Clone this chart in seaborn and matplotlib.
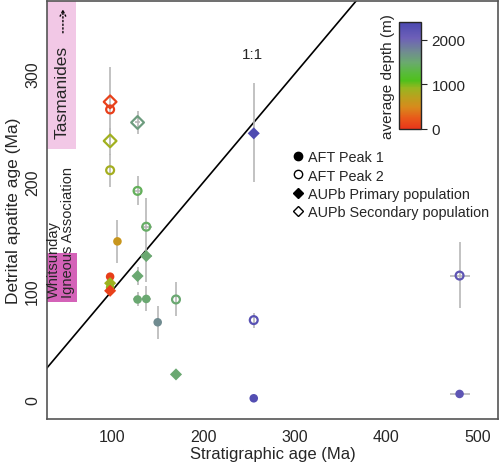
import numpy as np
import pandas as pd
import matplotlib
matplotlib.use("Agg")
import matplotlib.pyplot as plt
import seaborn as sns
from matplotlib.colors import LinearSegmentedColormap, Normalize
from matplotlib.lines import Line2D

sns.set_style("white")
plt.rcParams['font.family'] = ['Liberation Sans', 'DejaVu Sans']

# data
strat_age = [98, 98, 98, 98, 128, 128, 137.5, 106, 137.5, 128, 98, 98, 98, 98,
             128, 137.5, 170, 150, 170, 255, 255, 255, 480, 480]
apatite_age = [267, 274, 238, 211, 255, 192, 159, 145.5, 132, 113.6, 113, 107, 103, 100,
               92, 92.5, 92, 71, 23, 245, 73, 1, 114, 5]
depth = [60, 80, 860, 840, 1600, 1400, 1450, 600, 1500, 1500, 60, 880, 920, 80,
         1500, 1500, 1500, 1730, 1500, 2350, 2250, 2300, 2200, 2200]
kind = ['AFT Peak 2', 'AUPb Secondary population', 'AUPb Secondary population', 'AFT Peak 2',
        'AUPb Secondary population', 'AFT Peak 2', 'AFT Peak 2', 'AFT Peak 1',
        'AUPb Primary population', 'AUPb Primary population', 'AFT Peak 1',
        'AUPb Primary population', 'AFT Peak 1', 'AUPb Primary population',
        'AFT Peak 1', 'AFT Peak 1', 'AFT Peak 2', 'AFT Peak 1', 'AUPb Primary population',
        'AUPb Primary population', 'AFT Peak 2', 'AFT Peak 1', 'AFT Peak 2', 'AFT Peak 1']
y_lo = [232, 274, 225, 196, 244, 179, 108, 126, 132, 105, 113, 107, 103, 100,
        86, 81, 77, 56, 23, 200, 66, 1, 84, 5]
y_hi = [306, 274, 250, 226, 266, 206, 185, 165, 132, 122, 113, 107, 103, 100,
        99, 104, 108, 86, 23, 291, 80, 1, 145, 5]
x_err = [0, 0, 0, 0, 3, 5, 6, 0, 6, 5, 0, 0, 0, 0, 5, 5, 0, 0, 4, 0, 0, 0, 11, 11]

df = pd.DataFrame({'strat': strat_age, 'age': apatite_age, 'depth': depth, 'kind': kind,
                   'ylo': y_lo, 'yhi': y_hi, 'xerr': x_err})

cmap = LinearSegmentedColormap.from_list('depth', [
    (0.0, '#e8361a'), (0.1, '#e85a1a'), (0.2, '#d88a1c'), (0.3, '#b8a21e'),
    (0.38, '#98b620'), (0.45, '#50c01c'), (0.52, '#58bb3a'), (0.62, '#6aaa6e'),
    (0.72, '#708c90'), (0.85, '#6e60b8'), (1.0, '#4a48b0')])
norm = Normalize(0, 2400)

fig = plt.figure(figsize=(5, 4.64), dpi=100)
ax = fig.add_axes([0.094, 0.095, 0.902, 0.901])

# regions
ax.axhspan(231, 370, xmin=0, xmax=(61 - 29) / (522 - 29), color='#f2c8e6', lw=0, zorder=0)
ax.axhspan(90, 135, xmin=0, xmax=(62 - 29) / (522 - 29), color='#d462b8', lw=0, zorder=0)
ax.text(45.4, 284, 'Tasmanides', rotation=90, ha='center', va='center', fontsize=12.5)
ax.annotate('', xy=(46.4, 362), xytext=(46.4, 335),
            arrowprops=dict(arrowstyle='->', linestyle=':', lw=1, color='black'))
ax.text(44, 94.5, 'Whitsunday\nIgneous Association', rotation=90, ha='center',
        va='bottom', multialignment='left', fontsize=10.5, linespacing=1.0)

# 1:1 line
ax.plot([0, 600], [0, 600], color='black', lw=1.2, zorder=1)
ax.text(254, 318, '1:1', fontsize=11, ha='center', va='center')

# error bars
ax.vlines(df['strat'], df['ylo'], df['yhi'], color='#b8b8b8', lw=1.2, zorder=2)
ax.hlines(df['age'], df['strat'] - df['xerr'], df['strat'] + df['xerr'],
          color='#b8b8b8', lw=1.2, zorder=2)

filled = df[df['kind'].isin(['AFT Peak 1', 'AUPb Primary population'])]
sns.scatterplot(data=filled, x='strat', y='age', hue='depth', palette=cmap, hue_norm=norm,
                style='kind', markers={'AFT Peak 1': 'o', 'AUPb Primary population': 'D'},
                s=38, linewidth=0, legend=False, ax=ax, zorder=3)

for k, m, sz in [('AFT Peak 2', 'o', 32), ('AUPb Secondary population', 'D', 42)]:
    sub = df[df['kind'] == k]
    sns.scatterplot(data=sub, x='strat', y='age', hue='depth', palette=cmap, hue_norm=norm,
                    marker=m, s=sz, legend=False, ax=ax, zorder=4)
    coll = ax.collections[-1]
    fc = coll.get_facecolors()
    coll.set_edgecolors(fc)
    coll.set_facecolor('none')
    coll.set_linewidth(1.6)

ax.set_xlim(29, 522)
ax.set_ylim(-18, 367)
ax.set_xticks([100, 200, 300, 400, 500])
ax.set_yticks([0, 100, 200, 300])
ax.tick_params(axis='both', labelsize=11.5, length=4, width=1, color='#333333', direction='out')
ax.tick_params(axis='y', labelrotation=90, pad=1)
for lab in ax.get_yticklabels():
    lab.set_va('center')
for sp in ax.spines.values():
    sp.set_color('#555555')
    sp.set_linewidth(1.2)
ax.set_xlabel('Stratigraphic age (Ma)', fontsize=12, labelpad=1)
ax.set_ylabel('Detrital apatite age (Ma)', fontsize=12.5, labelpad=3)

handles = [Line2D([], [], marker='o', color='black', ls='none', ms=6),
           Line2D([], [], marker='o', mfc='none', mec='black', ls='none', ms=6),
           Line2D([], [], marker='D', color='black', ls='none', ms=5),
           Line2D([], [], marker='D', mfc='none', mec='black', ls='none', ms=5)]
ax.legend(handles, ['AFT Peak 1', 'AFT Peak 2', 'AUPb Primary population',
                    'AUPb Secondary population'], loc='upper left',
          bbox_to_anchor=(0.53, 0.66), frameon=False, fontsize=10.4, handlelength=0.6,
          handletextpad=0.4, labelspacing=0.3, borderpad=0)

# colorbar
cax = fig.add_axes([0.798, 0.7205, 0.044, 0.23])
sm = plt.cm.ScalarMappable(cmap=cmap, norm=norm)
cb = fig.colorbar(sm, cax=cax, ticks=[0, 1000, 2000])
cb.outline.set_linewidth(1)
cb.ax.tick_params(labelsize=11, length=4)
cax.yaxis.set_label_position('left')
cb.set_label('average depth (m)', fontsize=11, labelpad=3)

fig.savefig('out.png', dpi=100)
